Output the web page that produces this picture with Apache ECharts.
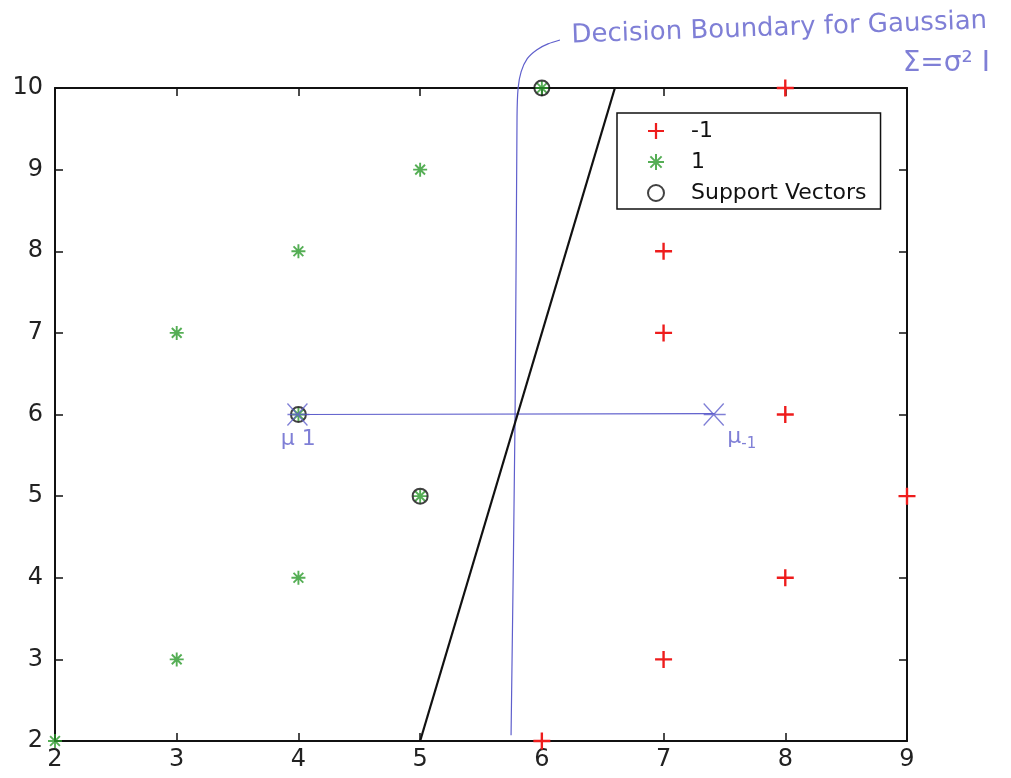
<!DOCTYPE html>
<html>
<head>
<meta charset="utf-8">
<script src="https://cdn.jsdelivr.net/npm/echarts@6/dist/echarts.min.js"></script>
<style>
  html, body { margin: 0; padding: 0; background: #ffffff; }
  #chart { width: 1011px; height: 778px; }
</style>
</head>
<body>
<div id="chart"></div>
<script>
// Class -1 samples (red plus)
const negClass = [[8, 10], [7, 8], [7, 7], [8, 6], [9, 5], [8, 4], [7, 3], [6, 2]];
// Class 1 samples (green asterisk)
const posClass = [[6, 10], [5, 9], [4, 8], [3, 7], [4, 6], [5, 5], [4, 4], [3, 3], [2, 2]];
// Support vectors (black circles)
const supportVectors = [[6, 10], [4, 6], [5, 5]];
// SVM separating line
const svmBoundary = [[5, 2], [6.6, 10]];

// Hand-drawn annotations: class means, the line joining them and the
// perpendicular boundary with its leader curve
const classMeans = [[4, 6], [7.42, 6]];
const meanLink = [[4.02, 6.0], [7.42, 6.01]];
const gaussBoundary = [[5.747, 2.07], [5.78, 5.99], [5.796, 9.645], [5.805, 10], [5.83, 10.2],
                       [5.88, 10.36], [5.96, 10.47], [6.05, 10.54], [6.149, 10.588]];
const noteText = ['Decision Boundary for Gaussian', 'Σ=σ² I', '{m|μ 1}', '{m|μ}{s|-1}'];
const noteX = [6.24, 8.96, 3.85, 7.52];
const noteY = [10.64, 10.3, 5.7, 5.72];
const noteSize = [26, 28, 22, 22];

const xTicks = { min: 2, max: 9, interval: 1 };
const yTicks = { min: 2, max: 10, interval: 1 };

const ink = '#5f5fcc';
const plusPath = 'path://M4.3,0h1.4v10h-1.4z M0,4.3h10v1.4h-10z';
const starPath = 'path://M5,0L5,10M0,5L10,5M1.5,1.5L8.5,8.5M8.5,1.5L1.5,8.5';
const crossPath = 'path://M0,0L10,10M10,0L0,10M0,5L11,5';

const axisFont = { fontFamily: 'DejaVu Sans', fontSize: 24, color: '#222' };

function makeAxis(t, pos, showLabel, margin) {
  return {
    type: 'value', min: t.min, max: t.max, interval: t.interval, position: pos,
    axisLine: { show: true, onZero: false, lineStyle: { color: '#111', width: 2 } },
    axisTick: { show: true, inside: true, length: 8, lineStyle: { color: '#111', width: 1.5 } },
    axisLabel: Object.assign({ show: showLabel, margin: margin }, axisFont),
    splitLine: { show: false }
  };
}

const chart = echarts.init(document.getElementById('chart'), null, { renderer: 'canvas' });

const option = {
  backgroundColor: '#ffffff',
  animation: false,
  grid: { left: 55, right: 104, top: 88, bottom: 37, containLabel: false },
  xAxis: [makeAxis(xTicks, 'bottom', true, 7), makeAxis(xTicks, 'top', false, 8)],
  yAxis: [makeAxis(yTicks, 'left', true, 12), makeAxis(yTicks, 'right', false, 12)],
  legend: {
    data: ['-1', '1', 'Support Vectors'],
    orient: 'vertical',
    left: 617, top: 113,
    padding: [7, 14, 5, 30],
    itemGap: 9,
    itemWidth: 16, itemHeight: 16,
    backgroundColor: '#fff',
    borderColor: '#111', borderWidth: 1.5,
    textStyle: { fontFamily: 'DejaVu Sans', fontSize: 22, color: '#111', lineHeight: 19, padding: [0, 0, 0, 22] }
  },
  series: [
    {
      name: 'svm', type: 'line', data: svmBoundary, symbol: 'none', silent: true,
      lineStyle: { color: '#111', width: 2.2 }, z: 3
    },
    {
      name: 'gauss', type: 'line', data: gaussBoundary, symbol: 'none', smooth: 0.3, clip: false,
      silent: true, lineStyle: { color: ink, width: 1.2 }, z: 2
    },
    {
      name: 'link', type: 'line', data: meanLink, symbol: 'none', silent: true,
      lineStyle: { color: ink, width: 1.2 }, z: 2
    },
    {
      name: '-1', type: 'scatter', data: negClass, symbol: plusPath, symbolSize: 17,
      itemStyle: { color: '#ee1c1c', opacity: 1 }, z: 5
    },
    {
      name: '1', type: 'scatter', data: posClass, symbol: starPath, symbolSize: 14, clip: false,
      itemStyle: { color: 'rgba(0,0,0,0)', borderColor: '#2a9a2a', borderWidth: 1.9 }, z: 5
    },
    {
      name: 'Support Vectors', type: 'scatter', data: supportVectors, symbol: 'circle', symbolSize: 15, clip: false,
      itemStyle: { color: 'rgba(0,0,0,0)', borderColor: '#111', borderWidth: 2 }, z: 6
    },
    {
      name: 'means', type: 'scatter', data: classMeans, symbol: crossPath, symbolSize: 22, silent: true,
      itemStyle: { color: 'rgba(0,0,0,0)', borderColor: ink, borderWidth: 1.3 }, z: 7
    },
    {
      name: 'notes', type: 'scatter', symbol: 'circle', symbolSize: 1, clip: false, silent: true,
      itemStyle: { color: 'rgba(0,0,0,0)' },
      data: noteText.map((t, i) => ({
        value: [noteX[i], noteY[i]],
        label: {
          show: true, formatter: t, position: 'right', distance: 0,
          fontFamily: 'DejaVu Sans', fontSize: noteSize[i], color: ink,
          rotate: i === 0 ? 2 : 0,
          rich: {
            m: { fontFamily: 'DejaVu Sans', fontSize: noteSize[i], color: ink },
            s: { fontFamily: 'DejaVu Sans', fontSize: 15, color: ink, padding: [14, 0, 0, 0] }
          }
        }
      })),
      z: 8
    }
  ]
};

chart.setOption(option);
</script>
</body>
</html>
